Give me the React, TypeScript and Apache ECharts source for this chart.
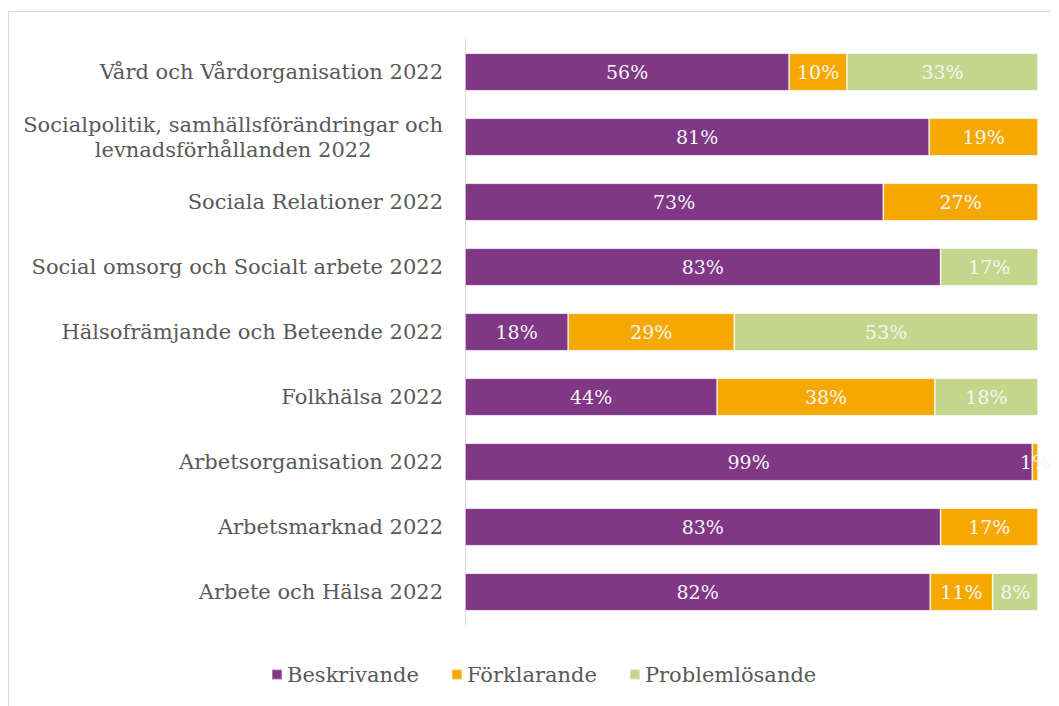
import React, { useEffect, useRef } from "react";
import * as echarts from "echarts";

const categories = [
  "Vård och Vårdorganisation 2022",
  "Socialpolitik, samhällsförändringar och\nlevnadsförhållanden 2022",
  "Sociala Relationer 2022",
  "Social omsorg och Socialt arbete 2022",
  "Hälsofrämjande och Beteende 2022",
  "Folkhälsa 2022",
  "Arbetsorganisation 2022",
  "Arbetsmarknad 2022",
  "Arbete och Hälsa 2022",
];
const beskrivande = [56, 81, 73, 83, 18, 44, 99, 83, 82];
const forklarande = [10, 19, 27, 0, 29, 38, 1, 17, 11];
const problemlosande = [33, 0, 0, 17, 53, 18, 0, 0, 8];

const seriesNames = ["Beskrivande", "Förklarande", "Problemlösande"];
const colors = ["#7F3786", "#F5A800", "#C3D68B"];

const FONT = "DejaVu Serif";

export default function App() {
  const ref = useRef<HTMLDivElement>(null);
  useEffect(() => {
    if (!ref.current) return;
    const chart = echarts.init(ref.current, null, { renderer: "svg" });
    const raw = [beskrivande, forklarande, problemlosande];
    const totals = categories.map((_, i) => raw.reduce((s, arr) => s + arr[i], 0));
    const cats = [...categories].reverse();
    const series = raw.map((arr, si) => ({
      name: seriesNames[si],
      type: "bar",
      stack: "total",
      barWidth: "58%",
      itemStyle: { color: colors[si], borderColor: "rgba(255,255,255,0.35)", borderWidth: 1 },
      label: {
        show: true,
        position: "inside",
        color: "#F5F5F5",
        fontFamily: FONT,
        fontSize: 19,
        formatter: (p: any) => (p.data.shown > 0 ? p.data.shown + "%" : ""),
      },
      data: arr
        .map((v, i) => ({ value: v === 0 ? null : (v / totals[i]) * 100, shown: v }))
        .reverse(),
    }));
    chart.setOption({
      animation: false,
      graphic: [
        {
          type: "rect",
          shape: { x: 0.5, y: 3.5, width: 1200, height: 900 },
          style: { fill: "none", stroke: "#D9D9D9", lineWidth: 1 },
          silent: true,
        },
      ],
      grid: { left: 457, right: 21, top: 31.5, height: 585, containLabel: false },
      xAxis: {
        type: "value",
        min: 0,
        max: 100,
        show: false,
        splitLine: { show: false },
      },
      yAxis: {
        type: "category",
        data: cats,
        axisLine: { show: true, lineStyle: { color: "#D9D9D9", width: 1 } },
        axisTick: { show: false },
        axisLabel: {
          margin: 22,
          formatter: (v: string) =>
            v
              .split("\n")
              .map((l) => "{c|" + l + "}")
              .join("\n"),
          rich: {
            c: {
              align: "center",
              color: "#595959",
              fontFamily: FONT,
              fontSize: 21,
              lineHeight: 25,
            },
          },
          color: "#595959",
          fontFamily: FONT,
          fontSize: 21,
        },
      },
      legend: {
        top: 651,
        left: 258,
        icon: "rect",
        itemWidth: 10,
        itemHeight: 10,
        itemGap: 32,
        textStyle: { color: "#595959", fontFamily: FONT, fontSize: 21 },
        data: seriesNames,
      },
      series,
    });
    return () => chart.dispose();
  }, []);
  return <div ref={ref} style={{ width: 1051, height: 698 }} />;
}
